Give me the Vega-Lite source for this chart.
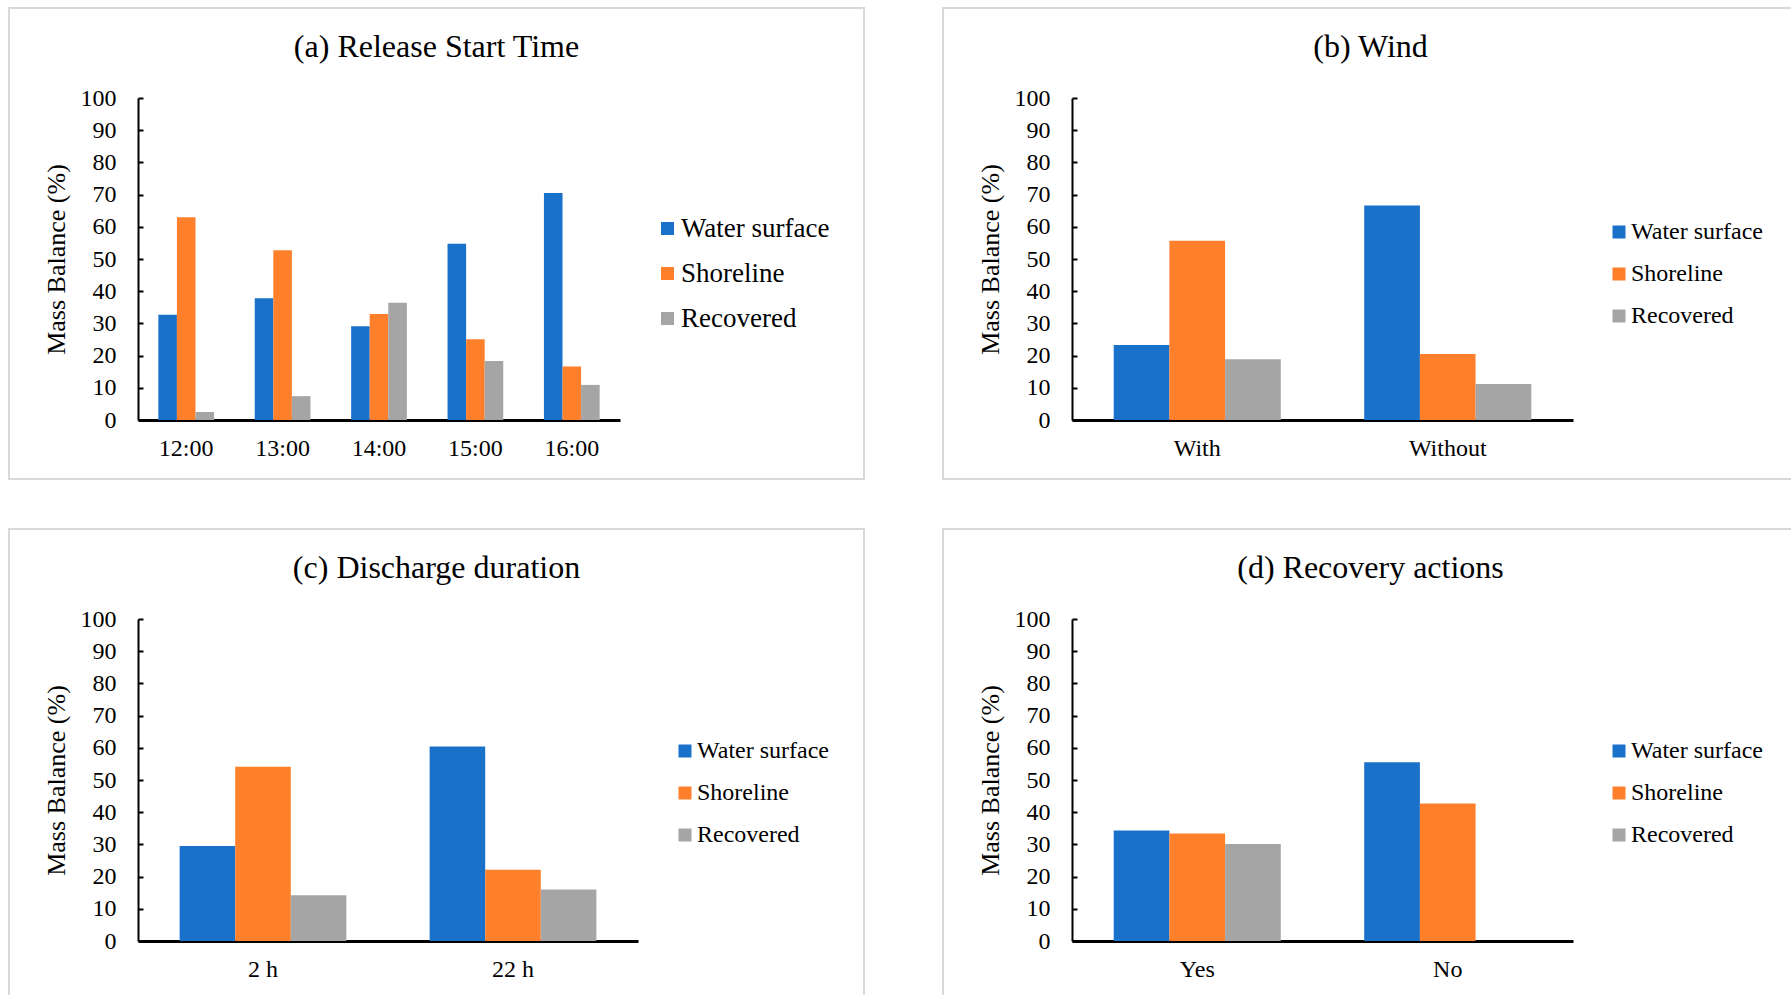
{
  "$schema": "https://vega.github.io/schema/vega-lite/v6.json",
  "padding": {"left": 8, "top": 7, "right": 0, "bottom": 0},
  "background": "white",
  "datasets": {
    "a": [
      {"cat": "12:00", "series": "Water surface", "value": 32.7},
      {"cat": "12:00", "series": "Shoreline", "value": 63.0},
      {"cat": "12:00", "series": "Recovered", "value": 2.5},
      {"cat": "13:00", "series": "Water surface", "value": 37.8},
      {"cat": "13:00", "series": "Shoreline", "value": 52.7},
      {"cat": "13:00", "series": "Recovered", "value": 7.4},
      {"cat": "14:00", "series": "Water surface", "value": 29.1},
      {"cat": "14:00", "series": "Shoreline", "value": 32.9},
      {"cat": "14:00", "series": "Recovered", "value": 36.4},
      {"cat": "15:00", "series": "Water surface", "value": 54.7},
      {"cat": "15:00", "series": "Shoreline", "value": 25.1},
      {"cat": "15:00", "series": "Recovered", "value": 18.3},
      {"cat": "16:00", "series": "Water surface", "value": 70.5},
      {"cat": "16:00", "series": "Shoreline", "value": 16.6},
      {"cat": "16:00", "series": "Recovered", "value": 10.9}
    ],
    "b": [
      {"cat": "With", "series": "Water surface", "value": 23.3},
      {"cat": "With", "series": "Shoreline", "value": 55.7},
      {"cat": "With", "series": "Recovered", "value": 18.9},
      {"cat": "Without", "series": "Water surface", "value": 66.6},
      {"cat": "Without", "series": "Shoreline", "value": 20.5},
      {"cat": "Without", "series": "Recovered", "value": 11.2}
    ],
    "c": [
      {"cat": "2 h", "series": "Water surface", "value": 29.5},
      {"cat": "2 h", "series": "Shoreline", "value": 54.1},
      {"cat": "2 h", "series": "Recovered", "value": 14.2},
      {"cat": "22 h", "series": "Water surface", "value": 60.4},
      {"cat": "22 h", "series": "Shoreline", "value": 22.1},
      {"cat": "22 h", "series": "Recovered", "value": 16.0}
    ],
    "d": [
      {"cat": "Yes", "series": "Water surface", "value": 34.3},
      {"cat": "Yes", "series": "Shoreline", "value": 33.4},
      {"cat": "Yes", "series": "Recovered", "value": 30.1},
      {"cat": "No", "series": "Water surface", "value": 55.5},
      {"cat": "No", "series": "Shoreline", "value": 42.7}
    ]
  },
  "columns": 2,
  "bounds": "flush",
  "spacing": {"row": 50, "column": 79},
  "resolve": {
    "scale": {"color": "independent", "xOffset": "independent", "x": "independent", "y": "independent"},
    "legend": {"color": "independent"}
  },
  "concat": [
    {
      "width": 855, "height": 471,
      "data": {"name": "a"},
      "title": {"text": "(a) Release Start Time"},
      "mark": "bar",
      "encoding": {
        "x": {"field": "cat", "type": "nominal", "sort": null,
              "scale": {"range": [129, 611], "paddingInner": 0.422, "paddingOuter": 0.211},
              "axis": {"title": null, "offset": -59}},
        "xOffset": {"field": "series", "type": "nominal", "sort": null,
                    "scale": {"domain": ["Water surface", "Shoreline", "Recovered"]}},
        "y": {"field": "value", "type": "quantitative",
              "scale": {"domain": [0, 100], "range": [412, 90], "nice": false, "zero": true},
              "axis": {"title": "Mass Balance (%)", "offset": -129, "values": [0, 10, 20, 30, 40, 50, 60, 70, 80, 90, 100]}},
        "color": {"field": "series", "type": "nominal",
                  "scale": {"domain": ["Water surface", "Shoreline", "Recovered"], "range": ["#1A71C9", "#FF7F2A", "#A5A5A5"]},
                  "legend": {"title": null, "legendX": 645, "legendY": 207, "labelFontSize": 27, "rowPadding": 17}}
      }
    },
    {
      "width": 855, "height": 471,
      "data": {"name": "b"},
      "title": {"text": "(b) Wind"},
      "mark": "bar",
      "encoding": {
        "x": {"field": "cat", "type": "nominal", "sort": null,
              "scale": {"range": [129, 630], "paddingInner": 0.333, "paddingOuter": 0.1665},
              "axis": {"title": null, "offset": -59}},
        "xOffset": {"field": "series", "type": "nominal", "sort": null,
                    "scale": {"domain": ["Water surface", "Shoreline", "Recovered"]}},
        "y": {"field": "value", "type": "quantitative",
              "scale": {"domain": [0, 100], "range": [412, 90], "nice": false, "zero": true},
              "axis": {"title": "Mass Balance (%)", "offset": -129, "values": [0, 10, 20, 30, 40, 50, 60, 70, 80, 90, 100]}},
        "color": {"field": "series", "type": "nominal",
                  "scale": {"domain": ["Water surface", "Shoreline", "Recovered"], "range": ["#1A71C9", "#FF7F2A", "#A5A5A5"]},
                  "legend": {"title": null, "legendX": 664, "legendY": 212, "labelFontSize": 24, "rowPadding": 18}}
      }
    },
    {
      "width": 855, "height": 471,
      "data": {"name": "c"},
      "title": {"text": "(c) Discharge duration"},
      "mark": "bar",
      "encoding": {
        "x": {"field": "cat", "type": "nominal", "sort": null,
              "scale": {"range": [129, 629], "paddingInner": 0.333, "paddingOuter": 0.1665},
              "axis": {"title": null, "offset": -59}},
        "xOffset": {"field": "series", "type": "nominal", "sort": null,
                    "scale": {"domain": ["Water surface", "Shoreline", "Recovered"]}},
        "y": {"field": "value", "type": "quantitative",
              "scale": {"domain": [0, 100], "range": [412, 90], "nice": false, "zero": true},
              "axis": {"title": "Mass Balance (%)", "offset": -129, "values": [0, 10, 20, 30, 40, 50, 60, 70, 80, 90, 100]}},
        "color": {"field": "series", "type": "nominal",
                  "scale": {"domain": ["Water surface", "Shoreline", "Recovered"], "range": ["#1A71C9", "#FF7F2A", "#A5A5A5"]},
                  "legend": {"title": null, "legendX": 664, "legendY": 210, "labelFontSize": 24, "rowPadding": 18}}
      }
    },
    {
      "width": 855, "height": 471,
      "data": {"name": "d"},
      "title": {"text": "(d) Recovery actions"},
      "mark": "bar",
      "encoding": {
        "x": {"field": "cat", "type": "nominal", "sort": null,
              "scale": {"range": [129, 630], "paddingInner": 0.333, "paddingOuter": 0.1665},
              "axis": {"title": null, "offset": -59}},
        "xOffset": {"field": "series", "type": "nominal", "sort": null,
                    "scale": {"domain": ["Water surface", "Shoreline", "Recovered"]}},
        "y": {"field": "value", "type": "quantitative",
              "scale": {"domain": [0, 100], "range": [412, 90], "nice": false, "zero": true},
              "axis": {"title": "Mass Balance (%)", "offset": -129, "values": [0, 10, 20, 30, 40, 50, 60, 70, 80, 90, 100]}},
        "color": {"field": "series", "type": "nominal",
                  "scale": {"domain": ["Water surface", "Shoreline", "Recovered"], "range": ["#1A71C9", "#FF7F2A", "#A5A5A5"]},
                  "legend": {"title": null, "legendX": 664, "legendY": 210, "labelFontSize": 24, "rowPadding": 18}}
      }
    }
  ],
  "config": {
    "font": "Liberation Serif",
    "view": {"stroke": "#D9D9D9", "strokeWidth": 2},
    "title": {"font": "Liberation Serif", "fontSize": 32, "fontWeight": "normal", "color": "black", "anchor": "middle", "frame": "group", "baseline": "middle", "offset": -56},
    "axis": {"labelFont": "Liberation Serif", "labelFontSize": 24, "labelColor": "black", "domainColor": "black", "grid": false, "titleFont": "Liberation Serif", "titleFontSize": 26, "titleFontWeight": "normal", "titleColor": "black"},
    "axisX": {"ticks": false, "domainWidth": 3, "labelPadding": 28, "labelBaseline": "middle", "labelAngle": 0},
    "axisY": {"tickSize": -5, "tickColor": "black", "tickWidth": 2, "domainWidth": 2, "labelPadding": 27, "titlePadding": 11},
    "legend": {"orient": "none", "symbolType": "square", "symbolSize": 169, "symbolStrokeWidth": 0, "labelFont": "Liberation Serif", "labelColor": "black", "labelOffset": 0, "labelLimit": 400, "padding": 0}
  }
}
